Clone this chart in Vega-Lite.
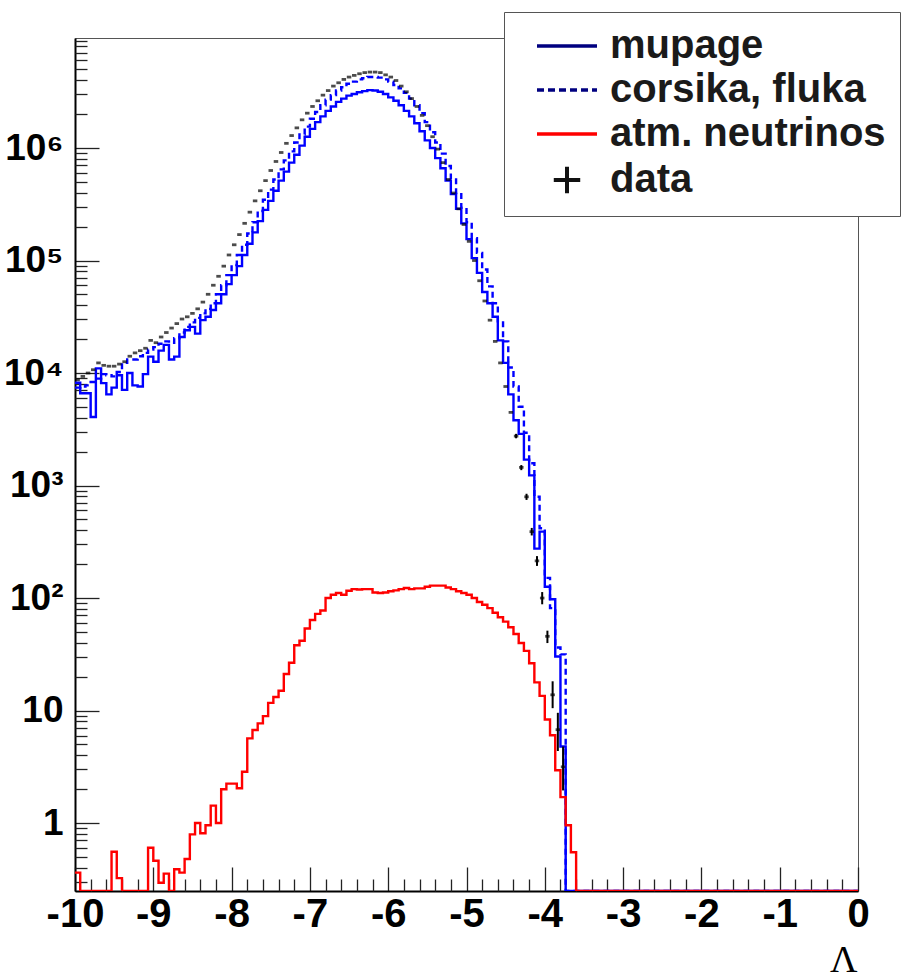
{
  "$schema": "https://vega.github.io/schema/vega-lite/v6.json",
  "width": 783,
  "height": 853,
  "autosize": {"type": "none"},
  "padding": {"left": 75, "top": 38, "right": 52, "bottom": 87},
  "background": "#ffffff",
  "config": {
    "view": {"stroke": "#555555", "strokeWidth": 1},
    "axis": {"grid": false},
    "font": "Liberation Sans"
  },
  "datasets": {
    "bins": [
      {"x": -10, "mupage": 8200, "corsika": 7410, "nu": 0.363, "data": 8710},
      {"x": -9.9333, "mupage": 6610, "corsika": 7590, "nu": 0, "data": 9330},
      {"x": -9.8667, "mupage": 6610, "corsika": 7760, "nu": 0, "data": 10000},
      {"x": -9.8, "mupage": 4070, "corsika": 8320, "nu": 0, "data": 10700},
      {"x": -9.7333, "mupage": 11000, "corsika": 8910, "nu": 0, "data": 12300},
      {"x": -9.6667, "mupage": 8130, "corsika": 9770, "nu": 0, "data": 11700},
      {"x": -9.6, "mupage": 6460, "corsika": 9550, "nu": 0, "data": 11500},
      {"x": -9.5333, "mupage": 7410, "corsika": 9330, "nu": 0.556, "data": 11500},
      {"x": -9.4667, "mupage": 9550, "corsika": 10200, "nu": 0.324, "data": 12000},
      {"x": -9.4, "mupage": 7080, "corsika": 12300, "nu": 0, "data": 12600},
      {"x": -9.3333, "mupage": 10000, "corsika": 13200, "nu": 0, "data": 14100},
      {"x": -9.2667, "mupage": 7760, "corsika": 13200, "nu": 0, "data": 15100},
      {"x": -9.2, "mupage": 7590, "corsika": 14100, "nu": 0, "data": 15800},
      {"x": -9.1333, "mupage": 9770, "corsika": 15100, "nu": 0, "data": 16600},
      {"x": -9.0667, "mupage": 14000, "corsika": 16200, "nu": 0.603, "data": 19500},
      {"x": -9, "mupage": 12600, "corsika": 17000, "nu": 0.462, "data": 18600},
      {"x": -8.9333, "mupage": 15800, "corsika": 18200, "nu": 0.295, "data": 20900},
      {"x": -8.8667, "mupage": 17800, "corsika": 19100, "nu": 0.355, "data": 22900},
      {"x": -8.8, "mupage": 13200, "corsika": 18600, "nu": 0, "data": 25100},
      {"x": -8.7333, "mupage": 14000, "corsika": 20400, "nu": 0.389, "data": 27500},
      {"x": -8.6667, "mupage": 20900, "corsika": 22900, "nu": 0.363, "data": 30200},
      {"x": -8.6, "mupage": 24000, "corsika": 25700, "nu": 0.479, "data": 31600},
      {"x": -8.5333, "mupage": 25700, "corsika": 28200, "nu": 0.794, "data": 33900},
      {"x": -8.4667, "mupage": 22400, "corsika": 30900, "nu": 1.0, "data": 37200},
      {"x": -8.4, "mupage": 29500, "corsika": 33900, "nu": 0.813, "data": 42700},
      {"x": -8.3333, "mupage": 31600, "corsika": 37200, "nu": 0.955, "data": 50100},
      {"x": -8.2667, "mupage": 36300, "corsika": 41700, "nu": 1.43, "data": 60300},
      {"x": -8.2, "mupage": 41700, "corsika": 50100, "nu": 1.0, "data": 72400},
      {"x": -8.1333, "mupage": 50100, "corsika": 60300, "nu": 2.0, "data": 89100},
      {"x": -8.0667, "mupage": 61700, "corsika": 74100, "nu": 2.24, "data": 112000},
      {"x": -8, "mupage": 74100, "corsika": 91200, "nu": 2.24, "data": 138000},
      {"x": -7.9333, "mupage": 89100, "corsika": 112000, "nu": 2.04, "data": 170000},
      {"x": -7.8667, "mupage": 112000, "corsika": 138000, "nu": 2.86, "data": 214000},
      {"x": -7.8, "mupage": 141000, "corsika": 174000, "nu": 5.66, "data": 269000},
      {"x": -7.7333, "mupage": 178000, "corsika": 219000, "nu": 6.71, "data": 339000},
      {"x": -7.6667, "mupage": 224000, "corsika": 275000, "nu": 7.69, "data": 417000},
      {"x": -7.6, "mupage": 282000, "corsika": 347000, "nu": 8.93, "data": 513000},
      {"x": -7.5333, "mupage": 339000, "corsika": 427000, "nu": 11.7, "data": 631000},
      {"x": -7.4667, "mupage": 417000, "corsika": 525000, "nu": 13.2, "data": 759000},
      {"x": -7.4, "mupage": 513000, "corsika": 646000, "nu": 15.0, "data": 912000},
      {"x": -7.3333, "mupage": 617000, "corsika": 776000, "nu": 21.1, "data": 1100000},
      {"x": -7.2667, "mupage": 741000, "corsika": 933000, "nu": 26.6, "data": 1290000},
      {"x": -7.2, "mupage": 871000, "corsika": 1120000, "nu": 38.0, "data": 1510000},
      {"x": -7.1333, "mupage": 1050000, "corsika": 1320000, "nu": 41.7, "data": 1780000},
      {"x": -7.0667, "mupage": 1260000, "corsika": 1550000, "nu": 53.7, "data": 2040000},
      {"x": -7, "mupage": 1480000, "corsika": 1820000, "nu": 63.8, "data": 2340000},
      {"x": -6.9333, "mupage": 1700000, "corsika": 2090000, "nu": 72.4, "data": 2630000},
      {"x": -6.8667, "mupage": 1910000, "corsika": 2400000, "nu": 77.6, "data": 2950000},
      {"x": -6.8, "mupage": 2140000, "corsika": 2690000, "nu": 100, "data": 3240000},
      {"x": -6.7333, "mupage": 2340000, "corsika": 2950000, "nu": 107, "data": 3550000},
      {"x": -6.6667, "mupage": 2570000, "corsika": 3240000, "nu": 111, "data": 3800000},
      {"x": -6.6, "mupage": 2750000, "corsika": 3470000, "nu": 107, "data": 4070000},
      {"x": -6.5333, "mupage": 2920000, "corsika": 3720000, "nu": 116, "data": 4270000},
      {"x": -6.4667, "mupage": 3020000, "corsika": 3890000, "nu": 120, "data": 4420000},
      {"x": -6.4, "mupage": 3130000, "corsika": 4070000, "nu": 119, "data": 4570000},
      {"x": -6.3333, "mupage": 3200000, "corsika": 4170000, "nu": 120, "data": 4680000},
      {"x": -6.2667, "mupage": 3270000, "corsika": 4270000, "nu": 120, "data": 4730000},
      {"x": -6.2, "mupage": 3240000, "corsika": 4270000, "nu": 112, "data": 4730000},
      {"x": -6.1333, "mupage": 3160000, "corsika": 4220000, "nu": 111, "data": 4680000},
      {"x": -6.0667, "mupage": 3020000, "corsika": 4070000, "nu": 112, "data": 4470000},
      {"x": -6, "mupage": 2820000, "corsika": 3890000, "nu": 115, "data": 4270000},
      {"x": -5.9333, "mupage": 2630000, "corsika": 3630000, "nu": 117, "data": 3980000},
      {"x": -5.8667, "mupage": 2400000, "corsika": 3390000, "nu": 120, "data": 3550000},
      {"x": -5.8, "mupage": 2140000, "corsika": 3090000, "nu": 123, "data": 3160000},
      {"x": -5.7333, "mupage": 1910000, "corsika": 2750000, "nu": 120, "data": 2750000},
      {"x": -5.6667, "mupage": 1660000, "corsika": 2400000, "nu": 122, "data": 2340000},
      {"x": -5.6, "mupage": 1410000, "corsika": 2040000, "nu": 122, "data": 1950000},
      {"x": -5.5333, "mupage": 1170000, "corsika": 1700000, "nu": 126, "data": 1580000},
      {"x": -5.4667, "mupage": 1000000, "corsika": 1380000, "nu": 129, "data": 1260000},
      {"x": -5.4, "mupage": 813000, "corsika": 1120000, "nu": 129, "data": 977000},
      {"x": -5.3333, "mupage": 661000, "corsika": 891000, "nu": 129, "data": 741000},
      {"x": -5.2667, "mupage": 513000, "corsika": 692000, "nu": 124, "data": 525000},
      {"x": -5.2, "mupage": 389000, "corsika": 525000, "nu": 120, "data": 398000},
      {"x": -5.1333, "mupage": 288000, "corsika": 398000, "nu": 115, "data": 288000},
      {"x": -5.0667, "mupage": 214000, "corsika": 295000, "nu": 111, "data": 209000},
      {"x": -5, "mupage": 155000, "corsika": 219000, "nu": 107, "data": 148000},
      {"x": -4.9333, "mupage": 105000, "corsika": 158000, "nu": 100, "data": 100000},
      {"x": -4.8667, "mupage": 77600, "corsika": 117000, "nu": 92.3, "data": 66100},
      {"x": -4.8, "mupage": 52500, "corsika": 83200, "nu": 87.1, "data": 43700},
      {"x": -4.7333, "mupage": 41700, "corsika": 58900, "nu": 81.3, "data": 29500},
      {"x": -4.6667, "mupage": 31600, "corsika": 41700, "nu": 74.1, "data": 19100},
      {"x": -4.6, "mupage": 19500, "corsika": 28800, "nu": 67.6, "data": 12300},
      {"x": -4.5333, "mupage": 12300, "corsika": 19100, "nu": 61.7, "data": 7590},
      {"x": -4.4667, "mupage": 6460, "corsika": 11200, "nu": 55.0, "data": 4470},
      {"x": -4.4, "mupage": 3800, "corsika": 7590, "nu": 47.9, "data": 2750},
      {"x": -4.3333, "mupage": 2880, "corsika": 5010, "nu": 39.8, "data": 1450},
      {"x": -4.2667, "mupage": 1700, "corsika": 2950, "nu": 33.9, "data": 794},
      {"x": -4.2, "mupage": 1230, "corsika": 1580, "nu": 26.3, "data": 389},
      {"x": -4.1333, "mupage": 275, "corsika": 794, "nu": 17.8, "data": 214},
      {"x": -4.0667, "mupage": 389, "corsika": 417, "nu": 13.5, "data": 100},
      {"x": -4, "mupage": 126, "corsika": 151, "nu": 8.32, "data": 45.7},
      {"x": -3.9333, "mupage": 97.7, "corsika": 81.3, "nu": 6.03, "data": 13.8},
      {"x": -3.8667, "mupage": 30.2, "corsika": 36.3, "nu": 2.95, "data": 6.76},
      {"x": -3.8, "mupage": 4.79, "corsika": 31.6, "nu": 1.70, "data": 3.16},
      {"x": -3.7333, "mupage": 0, "corsika": 0, "nu": 0.955},
      {"x": -3.6667, "mupage": 0, "corsika": 0, "nu": 0.55},
      {"x": -3.6, "mupage": 0, "corsika": 0, "nu": 0},
      {"x": 0, "mupage": 0, "corsika": 0, "nu": 0}
    ],
    "errs": [
      {"x": -4.4, "lo": 2630, "hi": 2880},
      {"x": -4.3333, "lo": 1370, "hi": 1520},
      {"x": -4.2667, "lo": 745, "hi": 845},
      {"x": -4.2, "lo": 360, "hi": 420},
      {"x": -4.1333, "lo": 193, "hi": 236},
      {"x": -4.0667, "lo": 88, "hi": 113},
      {"x": -4, "lo": 39.8, "hi": 51.3},
      {"x": -3.9333, "lo": 10.5, "hi": 18.2},
      {"x": -3.8667, "lo": 4.37, "hi": 9.55},
      {"x": -3.8, "lo": 1.95, "hi": 4.79}
    ]
  },
  "data": {"name": "bins"},
  "layer": [
    {
      "mark": {"type": "line", "interpolate": "step-after", "strokeWidth": 2.4, "strokeDash": [6, 4], "color": "#0000ff", "invalid": null, "clip": true},
      "encoding": {
        "x": {"field": "x", "type": "quantitative", "scale": {"domain": [-10, 0], "nice": false, "zero": false},
          "axis": {"orient": "bottom", "values": [-10, -9, -8, -7, -6, -5, -4, -3, -2, -1, 0], "labels": false, "domain": false, "ticks": true, "tickSize": -24, "tickColor": "#222222", "tickWidth": 1.3, "title": null}},
        "y": {"field": "corsika", "type": "quantitative", "scale": {"type": "log", "domain": [0.249, 9500000], "nice": false, "clamp": true},
          "axis": {"orient": "left", "values": [1, 10, 100, 1000, 10000, 100000, 1000000], "labels": false, "domain": false, "ticks": true, "tickSize": -24, "tickColor": "#222222", "tickWidth": 1.3, "title": null}}
      }
    },
    {
      "mark": {"type": "line", "interpolate": "step-after", "strokeWidth": 2.4, "color": "#0000ff", "invalid": null, "clip": true},
      "encoding": {
        "x": {"field": "x", "type": "quantitative", "scale": {"domain": [-10, 0], "nice": false, "zero": false},
          "axis": {"orient": "bottom", "values": [-10, -9, -8, -7, -6, -5, -4, -3, -2, -1, 0], "ticks": false, "domain": true, "domainColor": "#000000", "domainWidth": 2,
            "labelExpr": "'' + datum.value", "labelFont": "Liberation Sans", "labelFontWeight": "bold", "labelFontSize": 40, "labelColor": "#000000", "labelPadding": 3, "labelFlush": false, "labelOverlap": false,
            "title": "Λ", "titleFont": "Liberation Serif", "titleFontWeight": "normal", "titleFontSize": 38, "titleColor": "#000000", "titleX": 782, "titleY": 80, "titleAlign": "right", "titleBaseline": "alphabetic", "titleAnchor": null}},
        "y": {"field": "mupage", "type": "quantitative", "scale": {"type": "log", "domain": [0.249, 9500000], "nice": false, "clamp": true},
          "axis": {"orient": "left", "values": [1, 10, 100, 1000, 10000, 100000, 1000000], "ticks": false, "domain": true, "domainColor": "#000000", "domainWidth": 2,
            "labelExpr": "datum.value < 5 ? '1' : datum.value < 50 ? '10' : datum.value < 500 ? '10²' : datum.value < 5000 ? '10³' : datum.value < 50000 ? '10⁴' : datum.value < 500000 ? '10⁵' : '10⁶'",
            "labelFont": "Liberation Sans", "labelFontWeight": "bold", "labelFontSize": 37, "labelColor": "#000000", "labelPadding": 12, "labelFlush": false, "labelOverlap": false, "title": null}}
      }
    },
    {
      "mark": {"type": "line", "interpolate": "step-after", "strokeWidth": 2.4, "color": "#ff0000", "invalid": null, "clip": true},
      "encoding": {
        "x": {"field": "x", "type": "quantitative", "scale": {"domain": [-10, 0], "nice": false, "zero": false},
          "axis": {"orient": "bottom", "values": [-9.8, -9.6, -9.4, -9.2, -8.8, -8.6, -8.4, -8.2, -7.8, -7.6, -7.4, -7.2, -6.8, -6.6, -6.4, -6.2, -5.8, -5.6, -5.4, -5.2, -4.8, -4.6, -4.4, -4.2, -3.8, -3.6, -3.4, -3.2, -2.8, -2.6, -2.4, -2.2, -1.8, -1.6, -1.4, -1.2, -0.8, -0.6, -0.4, -0.2], "labels": false, "domain": false, "ticks": true, "tickSize": -12, "tickColor": "#222222", "tickWidth": 1.3, "title": null}},
        "y": {"field": "nu", "type": "quantitative", "scale": {"type": "log", "domain": [0.249, 9500000], "nice": false, "clamp": true},
          "axis": {"orient": "left", "values": [0.3, 0.4, 0.5, 0.6, 0.7, 0.8, 0.9, 2, 3, 4, 5, 6, 7, 8, 9, 20, 30, 40, 50, 60, 70, 80, 90, 200, 300, 400, 500, 600, 700, 800, 900, 2000, 3000, 4000, 5000, 6000, 7000, 8000, 9000, 20000, 30000, 40000, 50000, 60000, 70000, 80000, 90000, 200000, 300000, 400000, 500000, 600000, 700000, 800000, 900000, 2000000, 3000000, 4000000, 5000000, 6000000, 7000000, 8000000, 9000000], "labels": false, "domain": false, "ticks": true, "tickSize": -12, "tickColor": "#222222", "tickWidth": 1.3, "title": null}}
      }
    },
    {
      "mark": {"type": "tick", "orient": "horizontal", "size": 4.5, "thickness": 2.8, "xOffset": 2.61, "color": "#000000", "clip": true},
      "encoding": {
        "x": {"field": "x", "type": "quantitative", "scale": {"domain": [-10, 0], "nice": false, "zero": false}, "axis": null},
        "y": {"field": "data", "type": "quantitative", "scale": {"type": "log", "domain": [0.249, 9500000], "nice": false, "clamp": true}, "axis": null}
      }
    },
    {
      "data": {"name": "errs"},
      "mark": {"type": "rule", "color": "#000000", "strokeWidth": 2, "xOffset": 2.61, "clip": true},
      "encoding": {
        "x": {"field": "x", "type": "quantitative", "scale": {"domain": [-10, 0], "nice": false, "zero": false}, "axis": null},
        "y": {"field": "lo", "type": "quantitative", "scale": {"type": "log", "domain": [0.249, 9500000], "nice": false, "clamp": true}, "axis": null},
        "y2": {"field": "hi"}
      }
    },
    {
      "transform": [{"filter": "false"}],
      "mark": {"type": "line", "strokeWidth": 3.5},
      "encoding": {
        "x": {"field": "x", "type": "quantitative", "scale": {"domain": [-10, 0], "nice": false, "zero": false}, "axis": null},
        "y": {"field": "mupage", "type": "quantitative", "scale": {"type": "log", "domain": [0.249, 9500000], "nice": false, "clamp": true}, "axis": null},
        "color": {"datum": "mupage", "scale": {"domain": ["mupage", "corsika, fluka", "atm. neutrinos", "data"], "range": ["#000080", "#000080", "#ff0000", "#111111"]},
          "legend": {
            "title": null, "orient": "none", "legendX": 429, "legendY": -26, "direction": "vertical",
            "fillColor": "#ffffff", "strokeColor": "#555555", "padding": 14, "cornerRadius": 0,
            "symbolType": "stroke", "symbolSize": 3600, "symbolStrokeWidth": 3.5, "symbolOffset": 29,
            "labelFont": "Liberation Sans", "labelFontWeight": "bold", "labelFontSize": 40, "labelColor": "#1a1a1a",
            "labelOffset": 23, "rowPadding": 4, "labelLimit": 700,
            "labelExpr": "datum.label + '\u00a0\u00a0\u00a0\u00a0'",
            "encode": {"symbols": {"update": {
              "shape": {"signal": "datum.value === 'data' ? 'M-1,0H1M0,-1V1' : 'stroke'"},
              "size": {"signal": "datum.value === 'data' ? 700 : 3600"},
              "strokeDash": {"signal": "datum.value === 'corsika, fluka' ? [7, 4] : [1, 0]"},
              "strokeWidth": {"signal": "datum.value === 'data' ? 4 : 3.5"},
              "fill": {"value": "transparent"},
              "opacity": {"value": 1}
            }}}
          }}
      }
    }
  ],
  "resolve": {"axis": {"x": "independent", "y": "independent"}}
}
